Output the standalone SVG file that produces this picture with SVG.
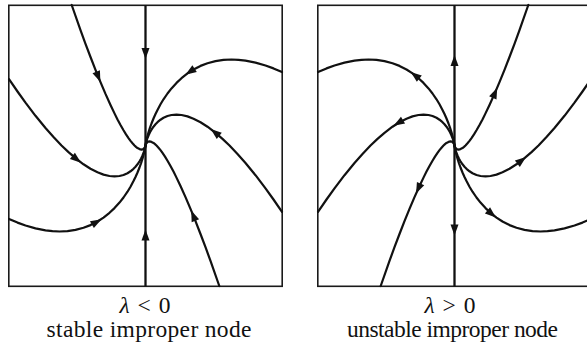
<svg xmlns="http://www.w3.org/2000/svg" xmlns:xlink="http://www.w3.org/1999/xlink" width="587" height="345" viewBox="0 0 587 345">
<style>
.box{fill:none;stroke:#1a1a1a;stroke-width:1.6}
.axis{stroke:#111;stroke-width:2.3;fill:none}
.cv{fill:none;stroke:#111;stroke-width:2.2;stroke-linejoin:round;stroke-linecap:round}
.ah{fill:#111}
.lbl{font-family:"Liberation Serif","Times New Roman",serif;font-size:23.5px;fill:#111;text-anchor:middle}
</style>
<defs>
<polygon id="arr" points="5.5,0 -5.5,-4 -5.5,4"/>
<g id="curves">
<path class="cv" d="M71.7,5 L80.5,30.1 L85.5,43.8 L90.5,57 L95.5,69.9 L100.5,82.1 L105.5,93.9 L110.5,105 L114.5,113.4 L117.5,119.4 L120.5,125 L123.5,130.3 L126,134.4 L128.5,138.1 L130.5,140.9 L132.5,143.3 L134.5,145.5 L136,146.9 L137.5,148.1 L139.5,149.1 L141.5,149.6 L142.5,149.4 L143.5,148.9 L144.5,147.9 L145,147 L145.3,146.3 L145.5,145.5"/>
<path class="cv" d="M9,79.2 L17.5,91.5 L25.5,102.6 L35.5,115.8 L45.5,128 L53.5,137 L61.5,145.5 L68.5,152.1 L75.5,158.2 L83.5,164.3 L90.5,168.8 L97.5,172.3 L103.5,174.6 L109.5,176 L114.5,176.4 L119.5,176 L123.5,175 L127.5,173.2 L130.5,171.3 L133.5,168.8 L135.5,166.8 L137.5,164.3 L139.5,161.3 L141,158.7 L142.5,155.5 L143.5,153 L144,151.5 L144.5,149.9 L144.8,148.9 L145.2,147.2 L145.4,146.2 L145.5,145.5"/>
<path class="cv" d="M9,218.9 L17.5,222.6 L25.5,225.5 L35.5,228.4 L45.5,230.4 L52.5,231.2 L59.5,231.5 L67.5,231.1 L75.5,229.9 L83.5,227.8 L90.5,225.1 L97.5,221.5 L103.5,217.6 L109.5,212.8 L114.5,208.1 L119.5,202.6 L123.5,197.5 L127.5,191.7 L130.5,186.7 L133.5,181.1 L135.5,177 L137.5,172.5 L139.5,167.5 L141,163.3 L142.5,158.6 L143.5,155 L144,153.1 L144.5,151 L144.8,149.6 L145.2,147.5 L145.4,146.3 L145.5,145.5"/>
</g>
<g id="frame">
<rect class="box" x="8.8" y="5.3" width="273.4" height="281"/>
<line class="axis" x1="145.5" y1="5.3" x2="145.5" y2="286.3"/>
<use xlink:href="#curves"/>
<use xlink:href="#curves" transform="rotate(180 145.5 145.5)"/>
</g>
</defs>
<g id="stable">
<use xlink:href="#frame"/>
<g class="ah">
<use xlink:href="#arr" transform="translate(145.5,53.5) rotate(90)"/>
<use xlink:href="#arr" transform="translate(145.5,235) rotate(-90)"/>
<use xlink:href="#arr" transform="translate(98.3,76.8) rotate(67.8)"/>
<use xlink:href="#arr" transform="translate(76.7,159.2) rotate(38.7)"/>
<use xlink:href="#arr" transform="translate(96.7,221.9) rotate(-29.5)"/>
<use xlink:href="#arr" transform="translate(190,71.7) rotate(146.6)"/>
<use xlink:href="#arr" transform="translate(215,132.4) rotate(219)"/>
<use xlink:href="#arr" transform="translate(193.3,215.7) rotate(247.9)"/>
</g>
<text class="lbl" x="145" y="313"><tspan font-style="italic">λ</tspan><tspan dx="8">&lt;</tspan><tspan dx="8">0</tspan></text>
<text class="lbl" x="149" y="337" textLength="205" lengthAdjust="spacing">stable improper node</text>
</g>
<g id="unstable">
<g transform="translate(600,0) scale(-1,1)">
<use xlink:href="#frame"/>
<g class="ah">
<use xlink:href="#arr" transform="translate(145.5,60.5) rotate(-90)"/>
<use xlink:href="#arr" transform="translate(145.5,230) rotate(90)"/>
<use xlink:href="#arr" transform="translate(105,92.8) rotate(246.5)"/>
<use xlink:href="#arr" transform="translate(185,75.3) rotate(-37.9)"/>
<use xlink:href="#arr" transform="translate(201.7,123) rotate(30.9)"/>
<use xlink:href="#arr" transform="translate(181.7,188.6) rotate(65.5)"/>
<use xlink:href="#arr" transform="translate(78.3,160.4) rotate(217.9)"/>
<use xlink:href="#arr" transform="translate(108.3,213.9) rotate(140)"/>
</g>
</g>
<text class="lbl" x="450" y="313"><tspan font-style="italic">λ</tspan><tspan dx="8">&gt;</tspan><tspan dx="8">0</tspan></text>
<text class="lbl" x="452.5" y="337" textLength="211" lengthAdjust="spacing">unstable improper node</text>
</g>
</svg>
